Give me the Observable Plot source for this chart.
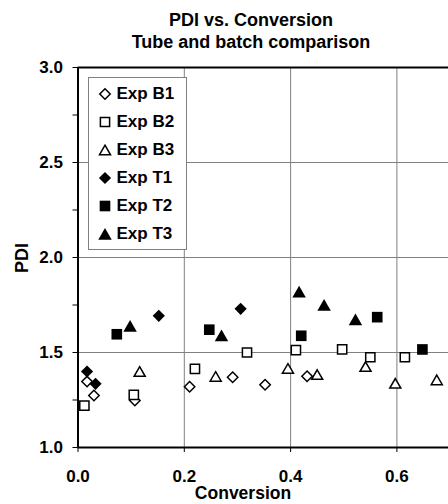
<!DOCTYPE html>
<html><head><meta charset="utf-8">
<script src="https://cdn.jsdelivr.net/npm/d3@7"></script>
<script src="https://cdn.jsdelivr.net/npm/@observablehq/plot@0.6"></script>
<style>
body{margin:0;background:#fff;}
#wrap{position:relative;width:448px;height:504px;overflow:hidden;font-family:"Liberation Sans",Arial,sans-serif;font-weight:bold;color:#000;background:#fff;}
.t{position:absolute;white-space:nowrap;}
#legend{position:absolute;left:88px;top:77px;width:97px;height:171px;border:1px solid #808080;background:#fff;}
.row{position:absolute;left:0;height:28px;line-height:28px;font-size:17px;white-space:nowrap;}
.row svg{position:absolute;left:9px;top:7px;overflow:visible;}
.row span{position:absolute;left:27.5px;top:0;}
</style></head><body><div id="wrap"></div>
<script>
// ---- data ----
const titleLines = ["PDI vs. Conversion", "Tube and batch comparison"];
const xLabel = "Conversion";
const yLabel = "PDI";
const seriesNames = ["Exp B1", "Exp B2", "Exp B3", "Exp T1", "Exp T2", "Exp T3"];
const b1Conv = [0.017, 0.030, 0.107, 0.210, 0.291, 0.352, 0.431];
const b1PDI  = [1.347, 1.274, 1.247, 1.320, 1.370, 1.330, 1.375];
const b2Conv = [0.012, 0.105, 0.220, 0.318, 0.410, 0.497, 0.550, 0.615];
const b2PDI  = [1.220, 1.277, 1.414, 1.500, 1.512, 1.516, 1.475, 1.475];
const b3Conv = [0.116, 0.259, 0.395, 0.450, 0.541, 0.597, 0.675];
const b3PDI  = [1.400, 1.374, 1.416, 1.384, 1.426, 1.338, 1.356];
const t1Conv = [0.017, 0.033, 0.152, 0.306];
const t1PDI  = [1.400, 1.335, 1.693, 1.730];
const t2Conv = [0.073, 0.247, 0.420, 0.563, 0.648];
const t2PDI  = [1.596, 1.620, 1.588, 1.686, 1.516];
const t3Conv = [0.098, 0.270, 0.416, 0.463, 0.522];
const t3PDI  = [1.640, 1.590, 1.820, 1.750, 1.674];
const xTicks = [0, 0.2, 0.4, 0.6];
const yTicks = [1.0, 1.5, 2.0, 2.5, 3.0];
const yMinorTicks = [1.25, 1.75, 2.25, 2.75];
const xGrid = [0.2, 0.4, 0.6];
const yGrid = [1.5, 2.0, 2.5];

// ---- build ----
const mk = (c, p) => c.map((v, i) => ({conv: v, pdi: p[i]}));
const font = '"Liberation Sans", Arial, sans-serif';
const styles = [
  {symbol: "diamond2", r: 4.7, fill: "white", stroke: "black", strokeWidth: 1.5, dy: 0},
  {symbol: "square",   r: 5.2, fill: "white", stroke: "black", strokeWidth: 1.5, dy: 0},
  {symbol: "triangle", r: 4.1, fill: "white", stroke: "black", strokeWidth: 1.5, dy: 1.6},
  {symbol: "diamond2", r: 5.5, fill: "black", stroke: "none", strokeWidth: 0, dy: 0},
  {symbol: "square",   r: 6.0, fill: "black", stroke: "none", strokeWidth: 0, dy: 0},
  {symbol: "triangle", r: 5.0, fill: "black", stroke: "none", strokeWidth: 0, dy: 1.9}
];
const data = [mk(b1Conv, b1PDI), mk(b2Conv, b2PDI), mk(b3Conv, b3PDI), mk(t1Conv, t1PDI), mk(t2Conv, t2PDI), mk(t3Conv, t3PDI)];

const chart = Plot.plot({
  width: 448, height: 504,
  marginLeft: 77.5, marginRight: 0, marginTop: 67, marginBottom: 57,
  style: {fontFamily: font, fontSize: "17px", fontWeight: "bold", background: "transparent", color: "black", overflow: "visible"},
  x: {domain: [0, 0.6971]},
  y: {domain: [1, 3]},
  marks: [
    Plot.gridX(xGrid, {stroke: "#808080", strokeOpacity: 1, strokeWidth: 1}),
    Plot.gridY(yGrid, {stroke: "#808080", strokeOpacity: 1, strokeWidth: 1}),
    Plot.axisX(xTicks, {tickSize: 5, tickPadding: 17, tickFormat: d3.format(".1f"), label: null, stroke: "black", strokeWidth: 1}),
    Plot.axisY(yTicks, {tickSize: 5, tickPadding: 10, tickFormat: d3.format(".1f"), label: null, stroke: "black", strokeWidth: 1}),
    Plot.axisY(yMinorTicks, {tickSize: 5, tickFormat: () => "", label: null, stroke: "black", strokeWidth: 1}),
    Plot.ruleX([0], {stroke: "black", strokeWidth: 2}),
    Plot.ruleY([1, 3], {stroke: "black", strokeWidth: 2}),
    ...data.map((d, i) => Plot.dot(d, {x: "conv", y: "pdi", ...styles[i]}))
  ]
});

const wrap = document.getElementById("wrap");
chart.style.position = "absolute";
chart.style.left = "0";
chart.style.top = "0";
wrap.appendChild(chart);

function addText(txt, css) {
  const d = document.createElement("div");
  d.className = "t";
  d.textContent = txt;
  Object.assign(d.style, css);
  wrap.appendChild(d);
  return d;
}
addText(titleLines[0], {left: "0px", width: "502px", textAlign: "center", top: "11px", fontSize: "18px", lineHeight: "18px"});
addText(titleLines[1], {left: "0px", width: "502px", textAlign: "center", top: "33.2px", fontSize: "18px", lineHeight: "18px"});
addText(xLabel, {left: "143px", width: "200px", textAlign: "center", top: "484px", fontSize: "17.5px", lineHeight: "19.5px"});
addText(yLabel, {left: "-8.3px", width: "60px", textAlign: "center", top: "249px", fontSize: "18px", lineHeight: "18px", transform: "rotate(-90deg)"});

// legend
const legend = document.createElement("div");
legend.id = "legend";
wrap.appendChild(legend);
const symMap = {diamond2: d3.symbolDiamond2, square: d3.symbolSquare, triangle: d3.symbolTriangle};
seriesNames.forEach((name, i) => {
  const row = document.createElement("div");
  row.className = "row";
  row.style.top = (1.5 + 28 * i) + "px";
  row.style.width = "97px";
  const s = styles[i];
  const ns = "http://www.w3.org/2000/svg";
  const svg = document.createElementNS(ns, "svg");
  svg.setAttribute("width", 14); svg.setAttribute("height", 14);
  const p = document.createElementNS(ns, "path");
  p.setAttribute("d", d3.symbol(symMap[s.symbol], Math.PI * s.r * s.r)());
  p.setAttribute("transform", `translate(7,${7 + s.dy})`);
  p.setAttribute("fill", s.fill);
  p.setAttribute("stroke", s.stroke);
  p.setAttribute("stroke-width", s.strokeWidth);
  svg.appendChild(p);
  row.appendChild(svg);
  const sp = document.createElement("span");
  sp.textContent = name;
  row.appendChild(sp);
  legend.appendChild(row);
});
</script></body></html>
